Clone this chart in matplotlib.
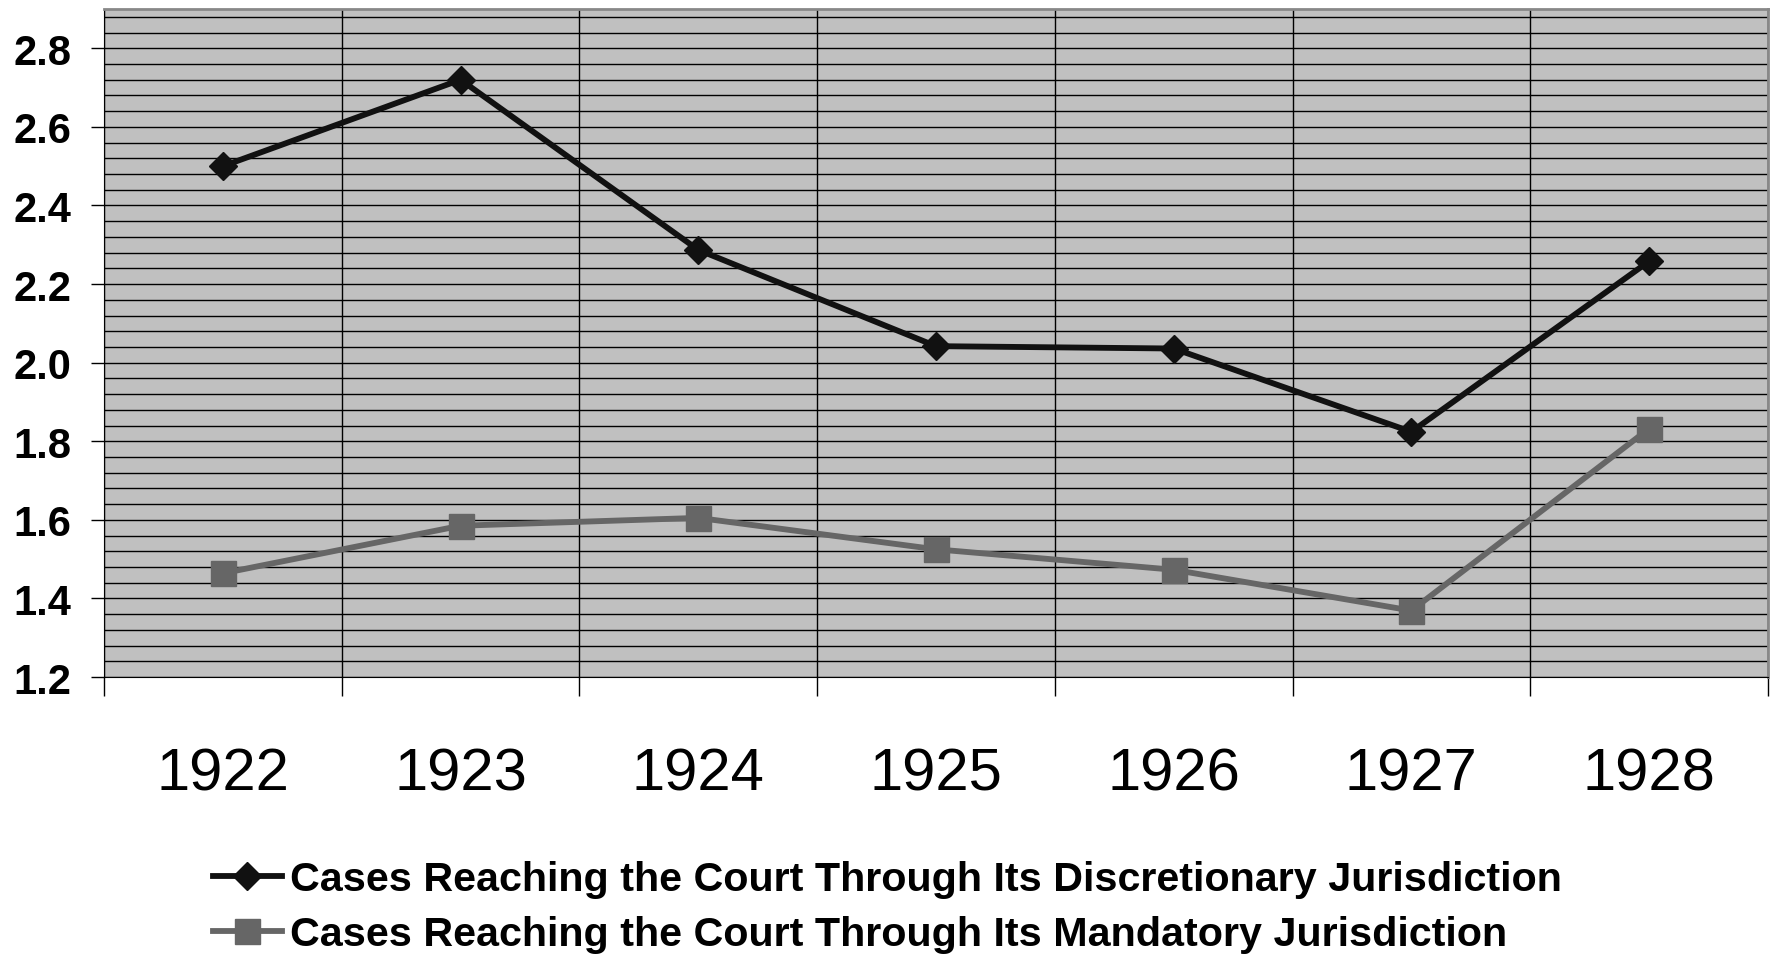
import numpy as np
import matplotlib
matplotlib.use('Agg')
import matplotlib.pyplot as plt
from matplotlib.ticker import MultipleLocator, FormatStrFormatter

plt.rcParams['font.family'] = ['Liberation Sans', 'DejaVu Sans']

years = ['1922', '1923', '1924', '1925', '1926', '1927', '1928']
discretionary = [2.50, 2.72, 2.287, 2.042, 2.036, 1.824, 2.258]
mandatory = [1.464, 1.585, 1.605, 1.525, 1.473, 1.369, 1.832]
labels = ['Cases Reaching the Court Through Its Discretionary Jurisdiction',
          'Cases Reaching the Court Through Its Mandatory Jurisdiction']

fig = plt.figure(figsize=(17.75, 9.62), dpi=100)
ax = fig.add_axes([0.0586, 0.2952, 0.9374, 0.6944])
ax.set_facecolor('#c0c0c0')

x = np.arange(len(years))
ax.plot(x, discretionary, color='#111111', lw=4.2, marker='D', ms=14,
        label=labels[0], zorder=3)
ax.plot(x, mandatory, color='#666666', lw=4.2, marker='s', ms=18,
        label=labels[1], zorder=3)

ax.set_xlim(-0.5, len(years) - 0.5)
ax.set_ylim(1.2, 2.9)

# horizontal gridlines every 0.04, labels every 0.2
ax.yaxis.set_major_locator(MultipleLocator(0.2))
ax.yaxis.set_major_formatter(FormatStrFormatter('%.1f'))
ax.yaxis.set_minor_locator(MultipleLocator(0.04))
ax.grid(True, axis='y', which='both', color='black', lw=1.0, zorder=1)
ax.tick_params(axis='y', which='major', length=9.5, width=1, direction='out',
               labelsize=30, pad=14)
ax.tick_params(axis='y', which='minor', length=0)
for t in ax.get_yticklabels():
    t.set_fontweight('bold')

# category boundaries carry the ticks and vertical lines; labels sit at centres
ax.set_xticks(np.arange(-0.5, len(years)), minor=False)
ax.set_xticklabels([])
ax.set_xticks(x, minor=True)
ax.set_xticklabels(years, minor=True)
ax.grid(True, axis='x', which='major', color='black', lw=1.0, zorder=1)
ax.tick_params(axis='x', which='major', length=14, width=1, direction='out')
ax.tick_params(axis='x', which='minor', length=0, labelsize=43, pad=50)

for side in ['top', 'right']:
    ax.spines[side].set_color('#888888')
    ax.spines[side].set_linewidth(2)
ax.spines['left'].set_color('black')
ax.spines['bottom'].set_color('black')

fig.legend(loc='upper left', bbox_to_anchor=(0.120, 0.105), frameon=False,
           prop={'size': 29.7, 'weight': 'bold'}, handlelength=1.67,
           handletextpad=0.2, labelspacing=0.42, borderaxespad=0,
           borderpad=0)

fig.savefig('out.png', dpi=100)
